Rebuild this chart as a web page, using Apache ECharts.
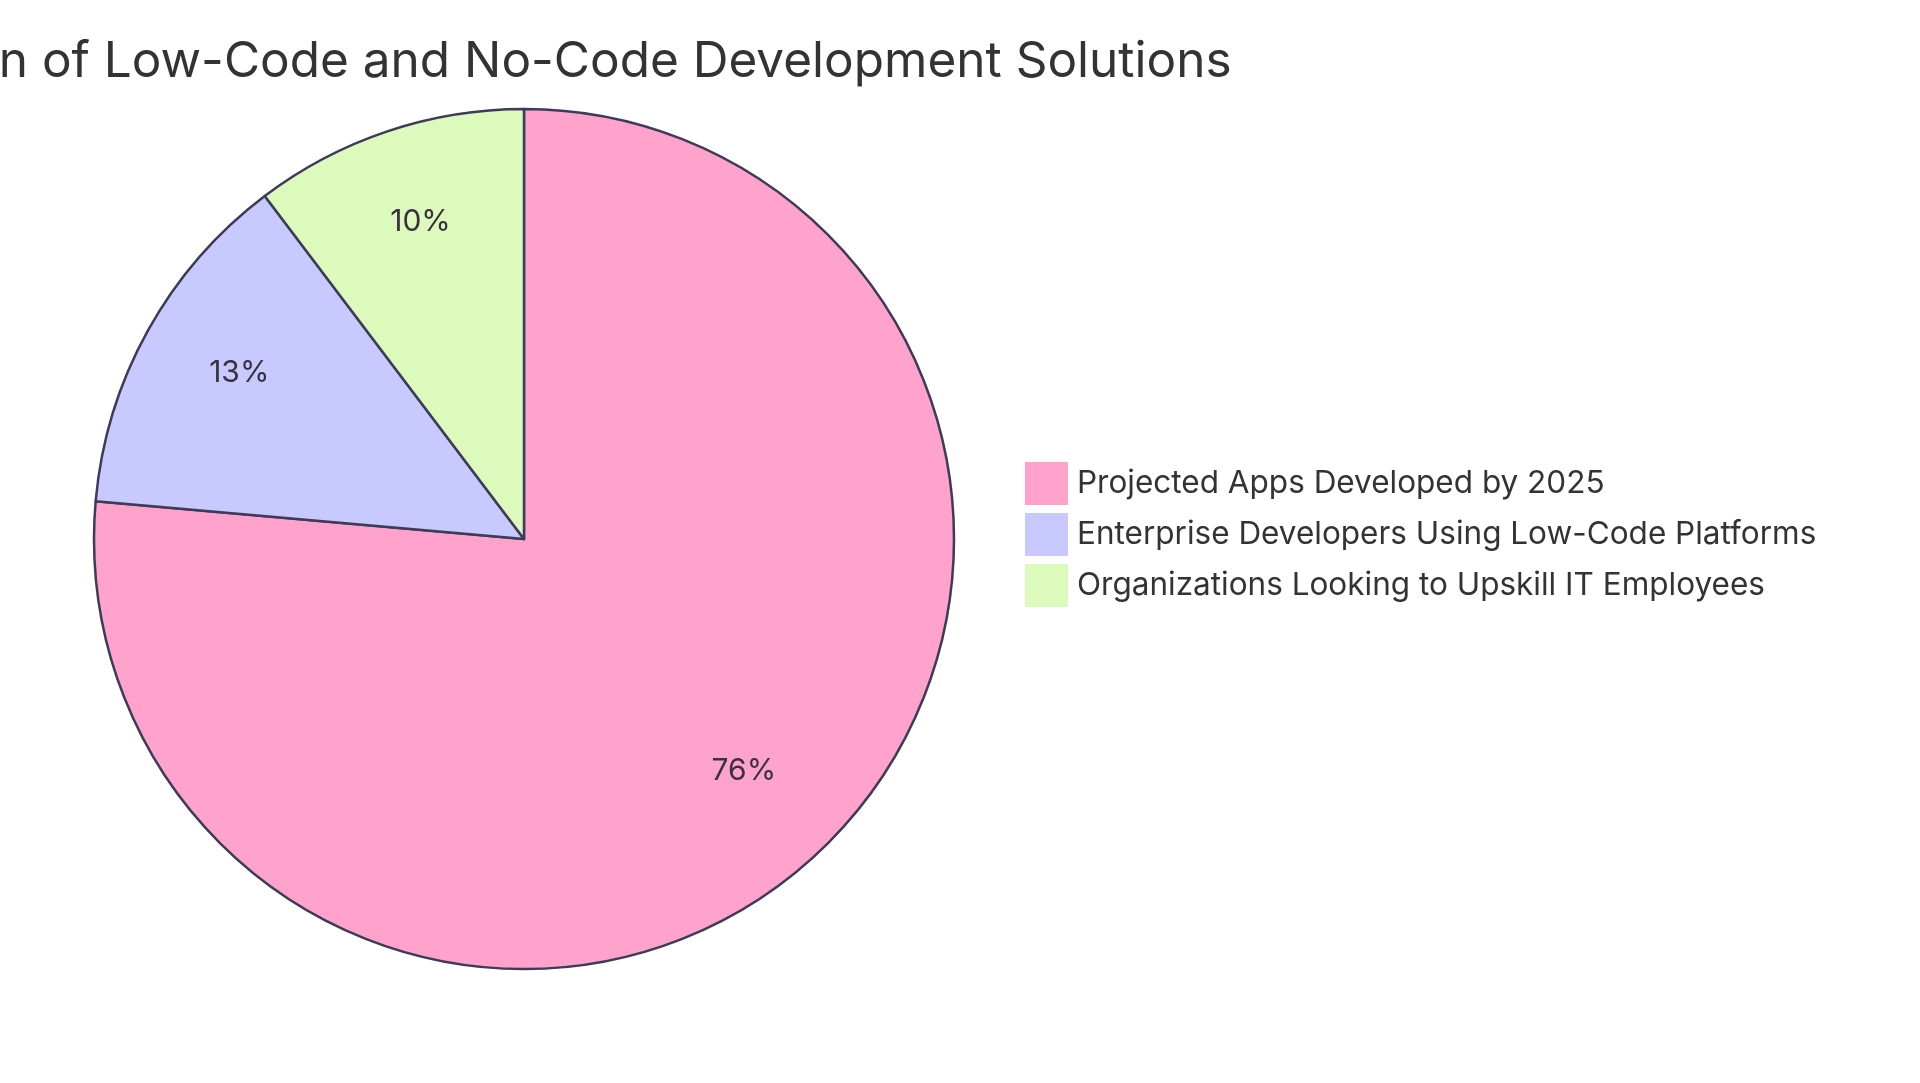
<!DOCTYPE html>
<html>
<head>
<meta charset="utf-8">
<script src="https://cdn.jsdelivr.net/npm/echarts@6/dist/echarts.min.js"></script>
<style>
html,body{margin:0;padding:0;background:#fff;}
#chart{width:1920px;height:1083px;}
</style>
</head>
<body>
<div id="chart"></div>
<script>
const titleText = 'Adoption of Low-Code and No-Code Development Solutions';
const categories = [
  'Projected Apps Developed by 2025',
  'Enterprise Developers Using Low-Code Platforms',
  'Organizations Looking to Upskill IT Employees'
];
const values = [76.4, 13.3, 10.3];
const colors = ['#FFA3CD', '#C8CAFF', '#DCFABC'];

const FONT = 'Inter, "Noto Sans", sans-serif';
const data = categories.map((c, i) => ({ name: c, value: values[i], itemStyle: { color: colors[i] } }));

const chart = echarts.init(document.getElementById('chart'));
chart.setOption({
  backgroundColor: '#ffffff',
  animation: false,
  graphic: [{
    type: 'text',
    x: 524,
    y: 87,
    style: {
      text: titleText,
      fill: '#333333',
      font: '400 49.5px ' + FONT,
      textAlign: 'center',
      textVerticalAlign: 'bottom',
      verticalAlign: 'bottom'
    }
  }],
  legend: {
    orient: 'vertical',
    left: 1025,
    top: 462,
    padding: 0,
    icon: 'rect',
    itemWidth: 43,
    itemHeight: 43,
    itemGap: 8,
    selectedMode: false,
    itemStyle: { borderWidth: 0 },
    data: categories,
    textStyle: {
      fontFamily: FONT,
      fontSize: 31.5,
      color: '#333333',
      padding: [0, 0, 0, 4]
    }
  },
  series: [
    {
      type: 'pie',
      center: [524, 539],
      radius: [0, 430],
      startAngle: 90,
      clockwise: true,
      silent: true,
      label: { show: false },
      labelLine: { show: false },
      itemStyle: { borderColor: '#3d3b58', borderWidth: 2.5 },
      data: data
    },
    {
      type: 'pie',
      center: [524, 539],
      radius: [215, 430],
      startAngle: 90,
      clockwise: true,
      silent: true,
      itemStyle: { color: 'rgba(0,0,0,0)', borderWidth: 0 },
      labelLine: { show: false },
      label: {
        show: true,
        position: 'inside',
        fontFamily: FONT,
        fontSize: 30,
        color: '#3a3040',
        verticalAlign: 'bottom',
        lineHeight: 30,
        offset: [0, -8],
        formatter: p => Math.round(p.percent) + '%'
      },
      data: categories.map((c, i) => ({ name: c, value: values[i] }))
    }
  ]
});
</script>
</body>
</html>
